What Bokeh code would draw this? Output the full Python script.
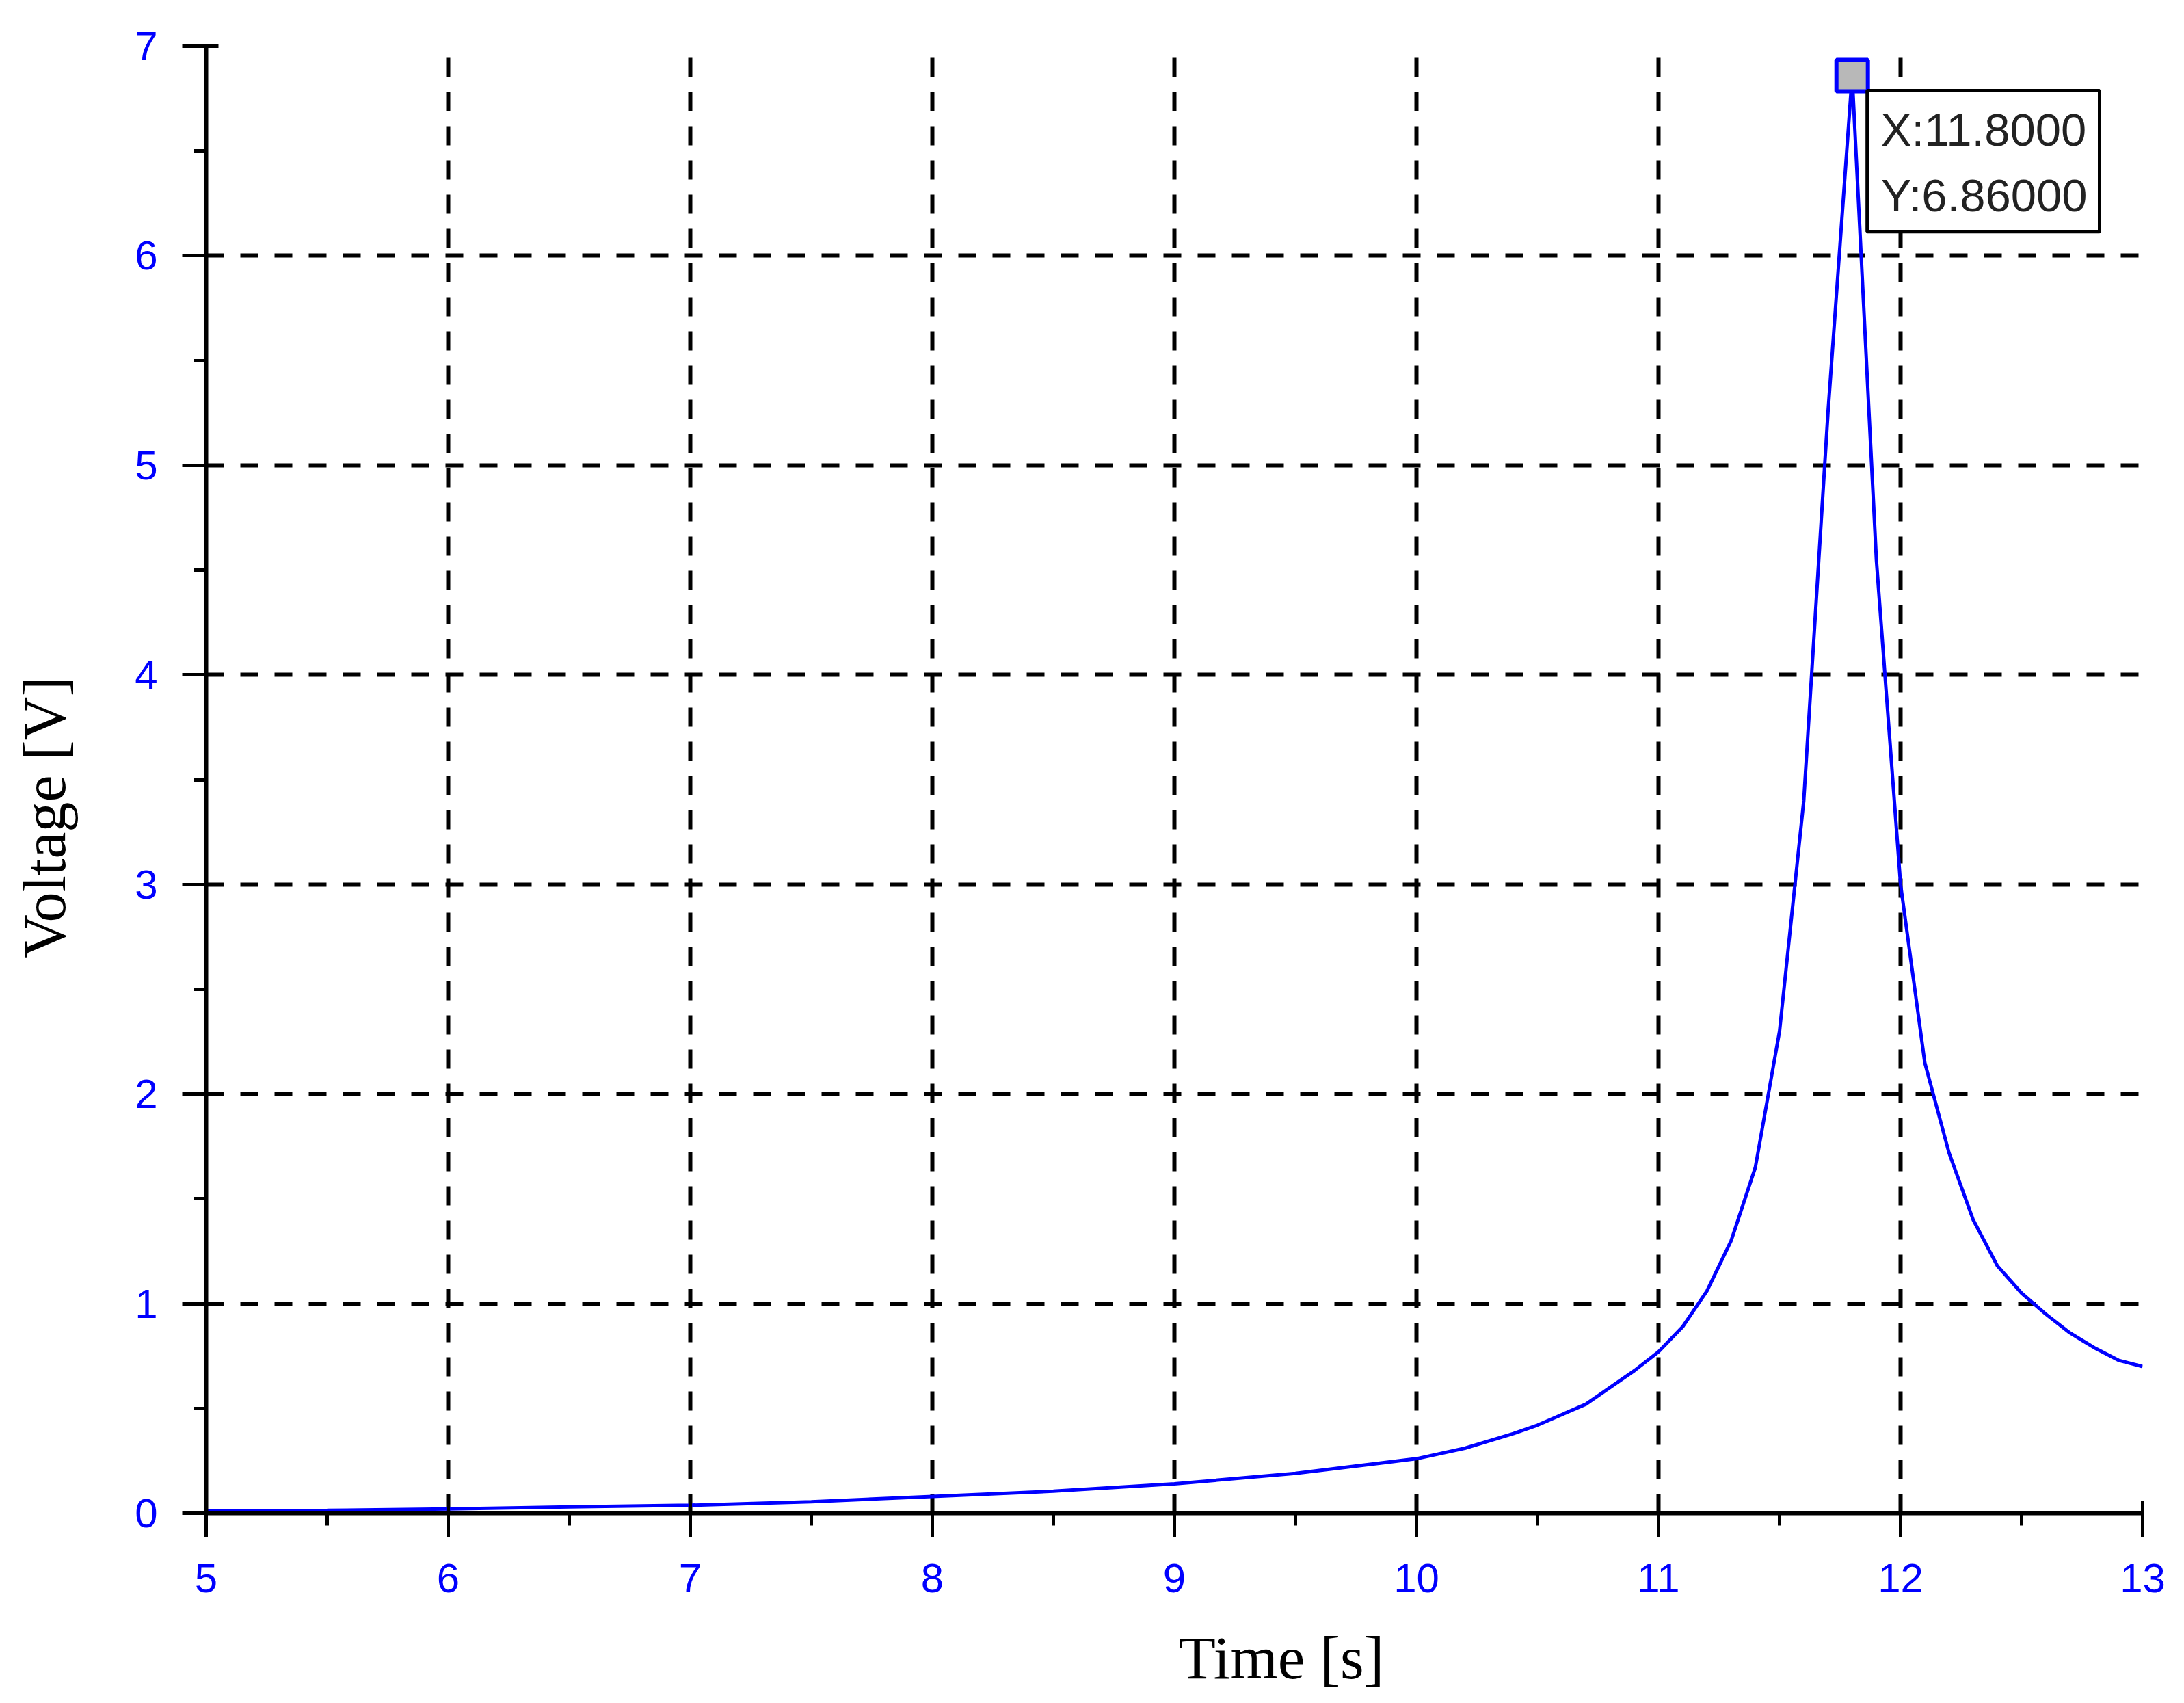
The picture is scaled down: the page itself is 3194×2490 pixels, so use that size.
from bokeh.plotting import figure
from bokeh.models import Range1d, SingleIntervalTicker, Label, Title
from bokeh.embed import file_html
from bokeh.resources import INLINE

# data
time_s = [5.0, 5.5, 6.0, 6.3, 6.5, 7.0, 7.5, 8.0, 8.5, 9.0, 9.5, 10.0, 10.2, 10.4,
          10.5, 10.6, 10.7, 10.8, 10.9, 11.0, 11.1, 11.2, 11.3, 11.4, 11.5, 11.6,
          11.7, 11.8, 11.9, 12.0, 12.1, 12.2, 12.3, 12.4, 12.5, 12.6, 12.7, 12.8,
          12.9, 13.0]
voltage_v = [0.01, 0.014, 0.02, 0.026, 0.03, 0.038, 0.055, 0.08, 0.105, 0.14, 0.19,
             0.26, 0.31, 0.38, 0.42, 0.47, 0.52, 0.6, 0.68, 0.77, 0.89, 1.06, 1.3,
             1.65, 2.3, 3.4, 5.25, 6.86, 4.55, 3.0, 2.15, 1.72, 1.4, 1.18, 1.05,
             0.95, 0.86, 0.79, 0.73, 0.7]
peak_x = 11.8
peak_y = 6.86
x_label = "Time [s]"
y_label = "Voltage [V]"
x_start, x_end = 5, 13
y_start, y_end = 0, 7

BLUE = "#0000ff"

p = figure(width=3178, height=2474, output_backend="svg", toolbar_location=None,
           x_range=Range1d(x_start, x_end), y_range=Range1d(y_start, y_end),
           min_border_left=301, min_border_right=45, min_border_top=67,
           min_border_bottom=260)
p.outline_line_color = None
p.background_fill_color = "white"
p.border_fill_color = "white"

p.xaxis.ticker = SingleIntervalTicker(interval=1, num_minor_ticks=2)
p.yaxis.ticker = SingleIntervalTicker(interval=1, num_minor_ticks=2)
p.xgrid.ticker = p.xaxis.ticker
p.ygrid.ticker = p.yaxis.ticker

for ax in (p.xaxis, p.yaxis):
    ax.axis_line_color = "black"
    ax.axis_line_width = 6
    ax.major_tick_line_color = "black"
    ax.major_tick_line_width = 5
    ax.minor_tick_line_color = "black"
    ax.minor_tick_line_width = 5
    ax.major_tick_in = 18
    ax.major_tick_out = 35
    ax.minor_tick_in = 0
    ax.minor_tick_out = 18
    ax.major_label_text_color = BLUE
    ax.major_label_text_font = "Liberation Sans"
    ax.major_label_text_font_size = "60px"

p.xaxis.major_label_standoff = 39
p.yaxis.major_label_standoff = 36

# invisible spacer below the x tick labels so the title sits lower, as in the reference
p.xaxis.axis_label = "\u00a0"
p.xaxis.axis_label_text_font_size = "1px"
p.xaxis.axis_label_standoff = 40

# y axis title: centred label, nudged down like the reference with trailing no-break spaces
p.yaxis.axis_label = y_label + "\u00a0" * 5
p.yaxis.axis_label_text_font = "Liberation Serif"
p.yaxis.axis_label_text_font_size = "88px"
p.yaxis.axis_label_text_font_style = "normal"
p.yaxis.axis_label_text_color = "black"
p.yaxis.axis_label_standoff = 80

# x axis title, placed right of centre as in the reference
xt = Title(text=x_label, align="left", offset=1422, vertical_align="top", standoff=0,
           text_font="Liberation Serif", text_font_size="89px",
           text_font_style="normal", text_color="black")
p.add_layout(xt, "below")

p.xgrid.grid_line_dash = "28 22"
p.ygrid.grid_line_dash = "26 24"
for g in (p.xgrid, p.ygrid):
    g.grid_line_color = "black"
    g.grid_line_width = 6
    g.grid_line_alpha = 1.0

p.line(time_s, voltage_v, line_color=BLUE, line_width=5)

p.scatter([peak_x], [peak_y], marker="square", size=46, fill_color="#b8b8b8",
          line_color=BLUE, line_width=6)

tip = Label(x=peak_x, y=peak_y, x_offset=22, y_offset=-22,
            text=f"X:{peak_x:.4f}\nY:{peak_y:.5f}",
            text_font="Liberation Sans", text_font_size="67px", text_color="#222222",
            text_baseline="top", text_align="left", text_line_height=1.27,
            background_fill_color="white", background_fill_alpha=1.0,
            border_line_color="black", border_line_width=5,
            padding=dict(left=20, right=18, top=20, bottom=16))
p.add_layout(tip)

open("out.html", "w").write(file_html(p, INLINE))
